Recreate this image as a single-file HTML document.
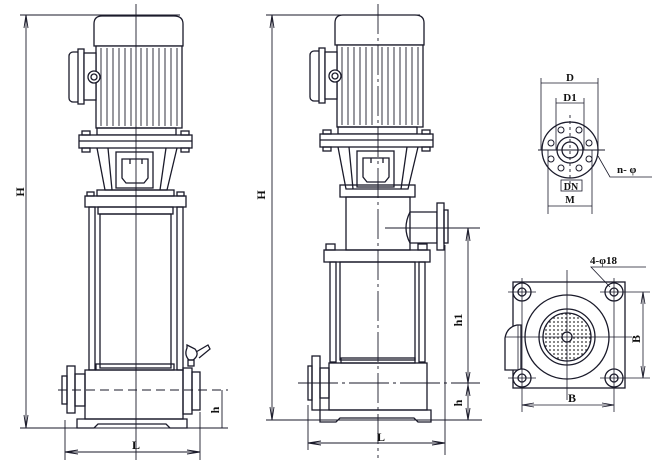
<!DOCTYPE html>
<html><head><meta charset="utf-8"><style>
html,body{margin:0;padding:0;background:#fff;}
svg{display:block;}
text{font-family:"Liberation Serif",serif;font-weight:bold;fill:#111;}
</style></head><body>
<svg width="659" height="463" viewBox="0 0 659 463" xmlns="http://www.w3.org/2000/svg" fill="none" stroke="#1a1a2a" stroke-width="1.3">
<defs>
<pattern id="dots" x="0" y="0" width="4" height="4" patternUnits="userSpaceOnUse">
  <circle cx="2" cy="2" r="0.9" fill="#333" stroke="none"/>
</pattern>
<g id="motor">
  <path d="M94 46 V24 Q94 16 102 16 H174 Q183 16 183 24 V46 Z" fill="#fff"/>
  <rect x="96" y="46" width="86" height="82" fill="#fff"/>
  <g stroke-width="0.9">
    <line x1="101" y1="48" x2="101" y2="126"/><line x1="107" y1="48" x2="107" y2="126"/>
    <line x1="113" y1="48" x2="113" y2="126"/><line x1="119" y1="48" x2="119" y2="126"/>
    <line x1="125" y1="48" x2="125" y2="126"/><line x1="131" y1="48" x2="131" y2="126"/>
    <line x1="141" y1="48" x2="141" y2="126"/><line x1="147" y1="48" x2="147" y2="126"/>
    <line x1="153" y1="48" x2="153" y2="126"/><line x1="159" y1="48" x2="159" y2="126"/>
    <line x1="165" y1="48" x2="165" y2="126"/><line x1="171" y1="48" x2="171" y2="126"/>
    <line x1="177" y1="48" x2="177" y2="126"/>
  </g>
  <rect x="69" y="52" width="12" height="50" rx="4" fill="#fff"/>
  <rect x="78" y="49" width="6" height="55" fill="#fff"/>
  <rect x="84" y="53" width="12" height="47" fill="#fff"/>
  <circle cx="94" cy="77" r="6" fill="#fff"/><circle cx="94" cy="77" r="3"/>
  <rect x="97" y="128" width="79" height="7"/>
  <rect x="79" y="135" width="113" height="13" fill="#fff"/>
  <line x1="79" y1="141" x2="192" y2="141"/>
  <rect x="82" y="131" width="8" height="4"/><rect x="82" y="148" width="8" height="4"/>
  <rect x="181" y="131" width="8" height="4"/><rect x="181" y="148" width="8" height="4"/>
  <path d="M97 148 L105 190 H167 L177 148"/>
  <line x1="108" y1="148" x2="112" y2="190"/><line x1="166" y1="148" x2="160" y2="190"/>
  <rect x="116" y="152" width="37" height="36"/>
  <path d="M122 159 H148 V178 L144 183 H126 L122 178 Z"/>
  <line x1="130" y1="159" x2="130" y2="164"/><line x1="142" y1="159" x2="142" y2="164"/>
</g>
</defs>

<!-- LEFT PUMP -->
<use href="#motor"/>
<rect x="85" y="196" width="101" height="11"/>
<rect x="87" y="192" width="7" height="4"/><rect x="177" y="192" width="7" height="4"/>
<rect x="97" y="190" width="77" height="6"/>
<rect x="98" y="207" width="75" height="7"/>
<rect x="100" y="214" width="71" height="154"/>
<rect x="89" y="207" width="6" height="163"/><rect x="177" y="207" width="6" height="163"/>
<rect x="96" y="364" width="78" height="6"/>
<rect x="85" y="370" width="98" height="49"/>
<path d="M77 428 V419 H187 V428 H170 L166 424 H98 L94 428 Z"/>
<rect x="67" y="366" width="8" height="47"/><rect x="62" y="376" width="5" height="28"/><rect x="75" y="374" width="10" height="32"/>
<rect x="192" y="372" width="8" height="38"/><rect x="183" y="368" width="9" height="46"/>
<path d="M187 345 L195 349 Q200 355 193 360 L189 360 Q184 355 187 348 Z M196 352 L208 345 L210 349 L199 358"/>
<rect x="188" y="360" width="6" height="6"/>
<!-- left dims -->
<line x1="136" y1="4" x2="136" y2="460" stroke-width="0.9"/>
<line x1="58" y1="390" x2="228" y2="390" stroke-dasharray="9 5" stroke-width="0.9"/>
<line x1="20" y1="15" x2="180" y2="15" stroke-width="0.9"/>
<line x1="20" y1="428" x2="228" y2="428" stroke-width="0.9"/>
<line x1="26" y1="15" x2="26" y2="428" stroke-width="0.9"/>
<path d="M24 28 L26 15 L28 28" stroke-width="0.9"/><path d="M24 415 L26 428 L28 415" stroke-width="0.9"/>
<line x1="222" y1="390" x2="222" y2="428" stroke-width="0.9"/>
<line x1="65" y1="420" x2="65" y2="460" stroke-width="0.9"/><line x1="200" y1="412" x2="200" y2="460" stroke-width="0.9"/>
<line x1="65" y1="452" x2="200" y2="452" stroke-width="0.9"/>
<path d="M78 450 L65 452 L78 454 M187 450 L200 452 L187 454" stroke-width="0.9"/>
<text x="24" y="192" font-size="12" transform="rotate(-90 24 192)" text-anchor="middle" stroke="none">H</text>
<text x="219" y="410" font-size="12" transform="rotate(-90 219 410)" text-anchor="middle" stroke="none">h</text>
<text x="136" y="449" font-size="12" text-anchor="middle" stroke="none">L</text>

<!-- MIDDLE PUMP -->
<use href="#motor" transform="translate(241,-1)"/>
<rect x="340" y="185" width="75" height="12"/>
<rect x="346" y="197" width="64" height="53"/>
<path d="M410 212 H437 V243 H410 Q402 228 410 212"/>
<rect x="437" y="203" width="7" height="47" fill="#fff"/><rect x="444" y="210" width="4" height="33"/>
<rect x="324" y="250" width="106" height="12"/>
<rect x="326" y="244" width="9" height="6"/><rect x="418" y="244" width="9" height="6"/>
<rect x="340" y="262" width="75" height="98"/>
<rect x="330" y="262" width="6" height="100"/><rect x="419" y="262" width="6" height="100"/>
<rect x="341" y="358" width="74" height="5"/>
<rect x="329" y="363" width="98" height="47"/>
<path d="M320 422 V410 H431 V422 H418 L414 418 H340 L336 422 Z"/>
<rect x="312" y="356" width="8" height="54"/><rect x="308" y="366" width="4" height="34"/><rect x="320" y="368" width="9" height="30"/>
<!-- middle dims -->
<line x1="378" y1="4" x2="378" y2="458" stroke-width="0.9" stroke-dasharray="30 4 3 4"/>
<line x1="385" y1="228" x2="480" y2="228" stroke-width="0.9"/>
<line x1="298" y1="383" x2="480" y2="383" stroke-width="0.9" stroke-dasharray="40 4 3 4"/>
<line x1="266" y1="15" x2="420" y2="15" stroke-width="0.9"/>
<line x1="266" y1="420" x2="482" y2="420" stroke-width="0.9"/>
<line x1="272" y1="15" x2="272" y2="420" stroke-width="0.9"/>
<path d="M270 28 L272 15 L274 28 M270 407 L272 420 L274 407" stroke-width="0.9"/>
<line x1="468" y1="228" x2="468" y2="420" stroke-width="0.9"/>
<path d="M466 241 L468 228 L470 241 M466 372 L468 383 L470 372 M466 396 L468 385 L470 396 M466 408 L468 420 L470 408" stroke-width="0.9"/>
<line x1="308" y1="405" x2="308" y2="450" stroke-width="0.9"/><line x1="445" y1="245" x2="445" y2="455" stroke-width="0.9"/>
<line x1="308" y1="443" x2="445" y2="443" stroke-width="0.9"/>
<path d="M321 441 L308 443 L321 445 M432 441 L445 443 L432 445" stroke-width="0.9"/>
<text x="265" y="195" font-size="12" transform="rotate(-90 265 195)" text-anchor="middle" stroke="none">H</text>
<text x="462" y="320" font-size="12" transform="rotate(-90 462 320)" text-anchor="middle" stroke="none">h1</text>
<text x="462" y="403" font-size="12" transform="rotate(-90 462 403)" text-anchor="middle" stroke="none">h</text>
<text x="381" y="441" font-size="12" text-anchor="middle" stroke="none">L</text>

<!-- FLANGE -->
<circle cx="570" cy="150" r="28"/>
<circle cx="570" cy="150" r="13"/><circle cx="570" cy="150" r="8"/>
<g stroke-width="1">
<circle cx="561" cy="130" r="3"/><circle cx="579" cy="130" r="3"/>
<circle cx="551" cy="143" r="3"/><circle cx="589" cy="143" r="3"/>
<circle cx="551" cy="159" r="3"/><circle cx="589" cy="159" r="3"/>
<circle cx="561" cy="168" r="3"/><circle cx="579" cy="168" r="3"/>
</g>
<line x1="538" y1="150" x2="605" y2="150" stroke-width="0.9"/>
<line x1="570" y1="115" x2="570" y2="185" stroke-width="0.9" stroke-dasharray="3 3"/>
<line x1="541" y1="78" x2="541" y2="150" stroke-width="0.8"/><line x1="598" y1="78" x2="598" y2="150" stroke-width="0.8"/>
<line x1="541" y1="83" x2="598" y2="83" stroke-width="0.8"/>
<line x1="556" y1="98" x2="556" y2="150" stroke-width="0.8"/><line x1="584" y1="98" x2="584" y2="150" stroke-width="0.8"/>
<line x1="556" y1="103" x2="584" y2="103" stroke-width="0.8"/>
<rect x="561" y="180" width="21" height="11" stroke-width="0.8"/>
<line x1="548" y1="150" x2="548" y2="214" stroke-width="0.8"/><line x1="592" y1="150" x2="592" y2="214" stroke-width="0.8"/>
<line x1="548" y1="206" x2="592" y2="206" stroke-width="0.8"/>
<path d="M598 156 L610 177 H652" stroke-width="0.8"/>
<text x="570" y="81" font-size="11" text-anchor="middle" stroke="none">D</text>
<text x="570" y="101" font-size="11" text-anchor="middle" stroke="none">D1</text>
<text x="571" y="190" font-size="10" text-anchor="middle" stroke="none">DN</text>
<text x="570" y="203" font-size="10" text-anchor="middle" stroke="none">M</text>
<text x="617" y="173" font-size="11" stroke="none">n- φ</text>

<!-- BASE PLAN -->
<rect x="513" y="282" width="112" height="106"/>
<circle cx="567" cy="337" r="42"/>
<circle cx="567" cy="337" r="28"/>
<circle cx="567" cy="337" r="24" fill="url(#dots)"/>
<circle cx="567" cy="337" r="5" fill="#fff"/>
<path d="M505 370 V338 Q507 327 517 325 L521 325 V370 Z" fill="#fff"/>
<line x1="518" y1="325" x2="518" y2="370" stroke-width="0.8"/>
<g fill="#fff">
<circle cx="522" cy="292" r="9"/><circle cx="614" cy="292" r="9"/>
<circle cx="522" cy="378" r="9"/><circle cx="614" cy="378" r="9"/>
</g>
<circle cx="522" cy="292" r="4"/><circle cx="614" cy="292" r="4"/>
<circle cx="522" cy="378" r="4"/><circle cx="614" cy="378" r="4"/>
<g stroke-width="0.8">
<line x1="505" y1="337" x2="632" y2="337"/><line x1="567" y1="270" x2="567" y2="400"/>
<line x1="508" y1="292" x2="536" y2="292"/><line x1="600" y1="292" x2="650" y2="292"/>
<line x1="508" y1="378" x2="536" y2="378"/><line x1="600" y1="378" x2="650" y2="378"/>
<line x1="522" y1="278" x2="522" y2="412"/><line x1="614" y1="278" x2="614" y2="412"/>
<line x1="643" y1="292" x2="643" y2="378"/>
<path d="M641 304 L643 292 L645 304 M641 366 L643 378 L645 366"/>
<line x1="522" y1="405" x2="614" y2="405"/>
<path d="M534 403 L522 405 L534 407 M602 403 L614 405 L602 407"/>
<path d="M610 287 L591 267 H646"/>
</g>
<text x="590" y="264" font-size="11" stroke="none">4-φ18</text>
<text x="640" y="339" font-size="12" transform="rotate(-90 640 339)" text-anchor="middle" stroke="none">B</text>
<text x="572" y="402" font-size="12" text-anchor="middle" stroke="none">B</text>
</svg>
</body></html>
